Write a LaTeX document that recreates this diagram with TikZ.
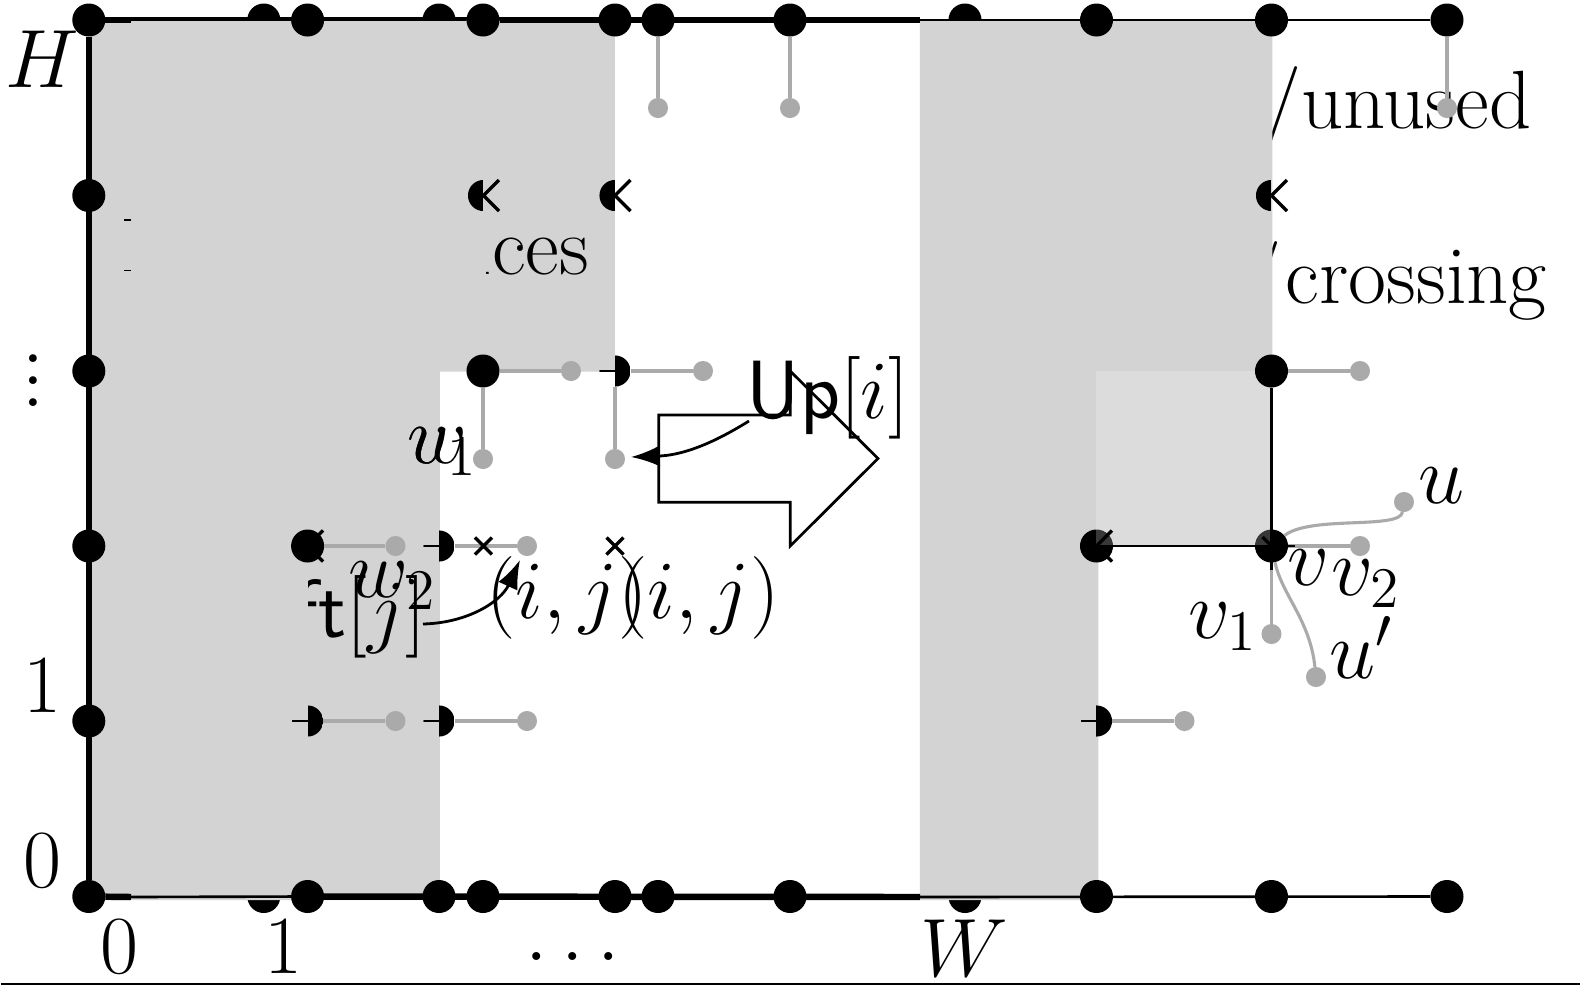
\documentclass[tikz,border=0pt]{standalone}
\usepackage{amsmath}
\usepackage{amssymb}
\usepackage{xcolor}
\usepackage{tikz}
\usetikzlibrary{arrows.meta}
\definecolor{regiongray}{HTML}{D3D3D3}
\definecolor{edgegray}{HTML}{AAAAAA}
\begin{document}
\begin{tikzpicture}
	[x=0.209pt, y=-0.209pt, font=\LARGE,
	% STYLES
	every node/.style={inner sep=0pt, outer sep=0pt},
	% The grid style is used to draw the full black points
	grid/.style={circle, fill=black, minimum size=6.9pt},
	% The half styles keep one half of a point and the stub of the other side
	halfleft/.style={circle, minimum size=6.5pt, path picture={\fill[black] (path picture bounding box.north west) rectangle (path picture bounding box.south);}},
	halfright/.style={circle, minimum size=6.5pt, path picture={\fill[black] (path picture bounding box.north) rectangle (path picture bounding box.south east); \draw[line width=0.6pt] (path picture bounding box.west) -- (path picture bounding box.center);}},
	% The free style is used to draw the grey end points
	free/.style={circle, fill=edgegray, minimum size=4.2pt},
	% The crossing styles mark the blocked corners
	crossarm/.style={line width=0.7pt},
	% The line styles
	heavy/.style={line width=1.35pt},
	light/.style={line width=0.55pt},
	unused/.style={edgegray, line width=0.65pt},
	pointer/.style={-{Latex[length=6pt,width=4.4pt]}, line width=0.58pt},
	label/.style={anchor=base}]
	\useasboundingbox (0,0) rectangle (1580,995);
	%%%%%%%%%%%%%%%
	% Below the regions
	\node [anchor=base east] (unusedtext) at (1531.5,128) {/unused};
	\node [anchor=base east] (crossingtext) at (1547,303) {/\kern1pt crossing};
	\node [grid] (t1) at (263.8,20) {};
	\node [grid] (t3) at (439,20) {};
	\node [grid] (tw) at (965,20) {};
	\node [grid] (b1) at (263.8,896.5) {};
	\node [grid] (bw) at (965,896.5) {};
	\coordinate (ta) at (131,20);
	\coordinate (tb) at (920,20);
	\coordinate (ba) at (131,897);
	\coordinate (bb) at (920,897);
	\coordinate (tstart) at (88.8,20);
	\draw [heavy] (tstart) -- (tb);
	\draw [heavy] (ba) -- (bb);
	% Regions
	\fill [regiongray] (90.5,20.5) -- (615,20.5) -- (615,371.5) -- (440,371.5) -- (440,900) -- (90.5,900) -- cycle;
	\fill [regiongray] (920,20.5) -- (1272.5,20.5) -- (1272.5,546) -- (1098.5,546) -- (1098.5,900) -- (920,900) -- cycle;
	% Small rests on the left region
	\draw [line width=0.3pt] (124.5,220) -- (131.5,220);
	\draw [line width=0.3pt] (124.5,270.7) -- (131.5,270.7);
	%%%%%%%%%%%%%%%
	% Outer points
	\node [grid] (t0) at (88.8,20) {};
	\node [grid] (t2) at (307.6,20) {};
	\node [grid] (t4) at (483,20) {};
	\node [grid] (t5) at (615,20) {};
	\node [grid] (t6) at (658,20) {};
	\node [grid] (t7) at (790,20) {};
	\node [grid] (t8) at (1096.5,20) {};
	\node [grid] (t9) at (1271.5,20) {};
	\node [grid] (t10) at (1447,20) {};
	\node [grid] (b0) at (88.8,896.5) {};
	\node [grid] (b2) at (307.6,896.5) {};
	\node [grid] (b3) at (439,896.5) {};
	\node [grid] (b4) at (483,896.5) {};
	\node [grid] (b5) at (615,896.5) {};
	\node [grid] (b6) at (658,896.5) {};
	\node [grid] (b7) at (790,896.5) {};
	\node [grid] (b8) at (1096.5,896.5) {};
	\node [grid] (b9) at (1271.5,896.5) {};
	\node [grid] (b10) at (1447,896.5) {};
	\node [grid] (l1) at (88.8,195.5) {};
	\node [grid] (l2) at (88.8,371) {};
	\node [grid] (l3) at (88.8,546) {};
	\node [grid] (l4) at (88.8,721) {};
	% Inner points
	\node [halfleft] (p45) at (483.5,195.5) {};
	\node [halfleft] (p55) at (615,195.5) {};
	\node [halfleft] (p95) at (1271.5,195.5) {};
	\node [grid] (p44) at (483,371) {};
	\node [halfright] (p54) at (615,371) {};
	\node [grid] (p23) at (307.6,546) {};
	\node [halfright] (p33) at (439,546) {};
	\node [grid] (p83) at (1096.5,546) {};
	\node [grid] (v) at (1271.5,546) {};
	\node [halfright] (p22) at (307.6,721) {};
	\node [halfright] (p32) at (439,721) {};
	\node [halfright] (p82) at (1096.5,721) {};
	% The open square at v
	\coordinate (squarecorner) at (1096.5,371);
	\fill [white, opacity=0.22] (squarecorner) rectangle (v.center);
	\node [grid] (p94) at (1271.5,371) {};
	% Grey end points
	\node [free] (e6) at (658,108) {};
	\node [free] (e7) at (790,108) {};
	\node [free] (e10) at (1447,108) {};
	\node [free] (e44r) at (571,371) {};
	\node [free] (e44d) at (483,459) {};
	\node [free] (e54r) at (703,371) {};
	\node [free] (e54d) at (615,459) {};
	\node [free] (e23) at (395.5,546) {};
	\node [free] (e33) at (527,546) {};
	\node [free] (e22) at (395.5,721) {};
	\node [free] (e32) at (527,721) {};
	\node [free] (e82) at (1184.5,721) {};
	\node [free] (e94) at (1360,371) {};
	\node [free] (v2dot) at (1360,546) {};
	\node [free] (v1dot) at (1271.5,634) {};
	\node [free] (udot) at (1404,502) {};
	\node [free] (updot) at (1316,677) {};
	%%%%%%%%%%%%%%%
	% Draw the links between points
	\path[unused]
	(t6) edge (e6)
	(t7) edge (e7)
	(t10) edge (e10)
	(p44) edge (e44r)
	(p44) edge (e44d)
	(p54) edge (e54r)
	(p54) edge (e54d)
	(p23) edge (e23)
	(p33) edge (e33)
	(p22) edge (e22)
	(p32) edge (e32)
	(p82) edge (e82)
	(p94) edge (e94)
	(v) edge (v2dot)
	(v) edge (v1dot);
	\draw [unused] (v) .. controls (1310,515) and (1400,530) .. (udot);
	\draw [unused] (v) .. controls (1282,595) and (1310,620) .. (updot);
	% The outer frame
	\draw [heavy] (t0) -- (b0);
	\draw [heavy] (t0) -- (ta);
	\draw [heavy] (t4) -- (tb);
	\draw [heavy] (b0) -- (ba);
	\draw [heavy] (b2) -- (bb);
	\draw [light] (ta) -- (t4);
	\draw [light] (ba) -- (b2);
	\draw [light] (tb) -- (t10);
	\draw [light] (bb) -- (b10);
	\draw [light] (p83.center) -- (v.center) -- (p94);
	\coordinate (vright) at (1295,546);
	\coordinate (vdown) at (1271.5,570);
	\draw [light] (v.center) -- (vright);
	\draw [light] (v.center) -- (vdown);
	% Crossing marks
	\draw [crossarm] (p45.center) -- ++(15.5,-15.5) (p45.center) -- ++(15.5,15.5);
	\draw [crossarm] (p55.center) -- ++(15.5,-15.5) (p55.center) -- ++(15.5,15.5);
	\draw [crossarm] (p95.center) -- ++(15.5,-15.5) (p95.center) -- ++(15.5,15.5);
	\draw [crossarm] (p23.center) -- ++(15.5,-15.5) (p23.center) -- ++(15.5,15.5);
	\draw [crossarm] (p83.center) -- ++(15.5,-15.5) (p83.center) -- ++(15.5,15.5);
	\draw [crossarm] (v.center) -- ++(-9,-9);
	\coordinate (x43) at (483.4,546);
	\coordinate (x53) at (615,546);
	\draw [crossarm] (x43) ++(-8.5,-8.5) -- ++(17,17) ++(0,-17) -- ++(-17,17);
	\draw [crossarm] (x53) ++(-8.5,-8.5) -- ++(17,17) ++(0,-17) -- ++(-17,17);
	%%%%%%%%%%%%%%%
	% Labels on the axes
	\node [label] (hlabel) at (42,87) {$H$};
	\node (vdotslabel) at (33.5,364) {\scalebox{1.15}{$\vdots$}};
	\node [label] (y1label) at (42,712) {$1$};
	\node [label] (y0label) at (42,887) {$0$};
	\node [label] (x0label) at (119,973) {$0$};
	\node [label] (x1label) at (283,973) {$1$};
	\node [label] (dotslabel) at (573,960) {$\ldots$};
	\node [label] (wlabel) at (964,976.5) {$W$};
	% Labels at the points
	\node [anchor=base west] (w1alabel) at (408,463) {$w$};
	\node [anchor=base west] (w1blabel) at (408,463) {$v_1$};
	\node [label] (w2label) at (393,597) {$w_2$};
	\node [label] (ij1label) at (567,618) {$(i,j)$};
	\node [label] (ij2label) at (699,618) {$(i,j)$};
	\node [label] (vlabel) at (1309,585) {$v$};
	\node [label] (v1label) at (1223,638) {$v_1$};
	\node [label] (v2label) at (1366,595.5) {$v_2$};
	\node [label] (ulabel) at (1442,503) {$u$};
	\node [label] (uplabel) at (1362,678) {$u'$};
	% Cut texts
	\begin{scope}
		\clip (487,225) rectangle (600,290);
		\node [anchor=base east] (choicestext) at (589,274) {ices};
	\end{scope}
	\begin{scope}
		\clip (308.5,565) rectangle (438,665);
		\node [anchor=base east] (lefttext) at (426,637) {$\textsf{Left}[j]$};
	\end{scope}
	% The big arrow
	\draw [line width=0.58pt] (658.8,415) -- (790.2,415) -- (790.2,371) -- (878,458.5) -- (790.2,546) -- (790.2,502.3) -- (658.8,502.3) -- cycle;
	\node [label] (uptext) at (828,418) {$\textsf{Up}[i]$};
	% The arrows from the two names
	\coordinate (upfrom) at (749,421);
	\coordinate (upto) at (631,457);
	\coordinate (leftfrom) at (423,624);
	\coordinate (leftto) at (520,560);
	\draw [pointer] (upfrom) to[bend left=15] (upto);
	\draw [pointer] (leftfrom) to[bend right=32] (leftto);
	% Line under the picture
	\coordinate (rulea) at (1,984.3);
	\coordinate (ruleb) at (1580,984.3);
	\draw [line width=0.4pt] (rulea) -- (ruleb);
\end{tikzpicture}
\end{document}
